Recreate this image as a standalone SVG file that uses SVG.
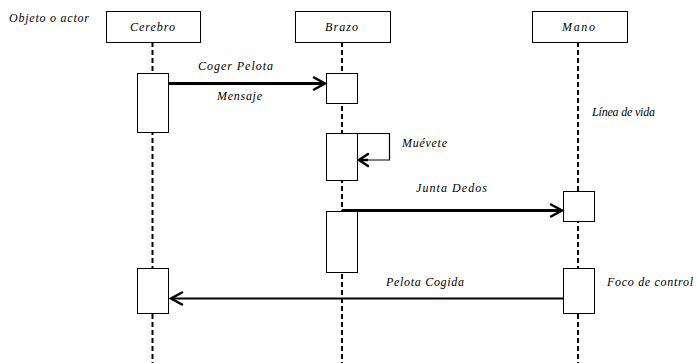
<svg xmlns="http://www.w3.org/2000/svg" width="696" height="363" viewBox="0 0 696 363">
<style>
text{font-family:'Liberation Serif','DejaVu Serif',serif;font-style:italic;font-size:12px;fill:#000}
.box{fill:#fff;stroke:#000;stroke-width:1}
.life{stroke:#000;stroke-width:2;stroke-dasharray:5 3;fill:none}
.msg{stroke:#000;fill:none}
.head{stroke:#000;fill:none;stroke-width:2.5;stroke-linecap:round;stroke-linejoin:miter}
</style>
<rect width="696" height="363" fill="#fff"/>
<g id="lifelines">
<line class="life" x1="152.5" y1="42" x2="152.5" y2="363"/>
<line class="life" x1="342" y1="42" x2="342" y2="363"/>
<line class="life" x1="578" y1="42" x2="578" y2="363"/>
</g>
<g id="label-objeto"><text x="9" y="22" textLength="80" lengthAdjust="spacing">Objeto o actor</text></g>
<g id="cerebro">
<rect class="box" x="106.5" y="11.5" width="94" height="31"/>
<text x="130" y="31" textLength="45" lengthAdjust="spacing">Cerebro</text>
</g>
<g id="brazo">
<rect class="box" x="295.5" y="11.5" width="95" height="31"/>
<text x="325" y="31" textLength="33" lengthAdjust="spacing">Brazo</text>
</g>
<g id="mano">
<rect class="box" x="532.5" y="11.5" width="95" height="31"/>
<text x="562" y="31" textLength="33" lengthAdjust="spacing">Mano</text>
</g>
<g id="cerebro-act1"><rect class="box" x="137.5" y="73.5" width="31" height="59"/></g>
<g id="cerebro-act2"><rect class="box" x="137.5" y="268.5" width="31" height="45"/></g>
<g id="brazo-act1"><rect class="box" x="326.5" y="73.5" width="31" height="30"/></g>
<g id="brazo-act2"><rect class="box" x="326.5" y="133.5" width="31" height="47"/></g>
<g id="brazo-act3"><rect class="box" x="326.5" y="211.5" width="31" height="61"/></g>
<g id="mano-act1"><rect class="box" x="563.5" y="191.5" width="31" height="30"/></g>
<g id="mano-act2"><rect class="box" x="563.5" y="268.5" width="31" height="45"/></g>
<g id="connectors">
<line class="msg" x1="169" y1="83.5" x2="325" y2="83.5" stroke-width="3"/>
<polyline class="head" points="314,77.5 325,83.5 314,89.5"/>
<polyline class="msg" stroke-width="1.2" points="357.5,133.5 389.5,133.5 389.5,160 359,160"/>
<line class="msg" x1="359" y1="160" x2="368" y2="160" stroke-width="2.5"/>
<polyline class="head" points="368,154 359,160 368,166"/>
<line class="msg" x1="342" y1="210.5" x2="562" y2="210.5" stroke-width="3"/>
<polyline class="head" points="551,204.5 562,210.5 551,216.5"/>
<line class="msg" x1="563" y1="298.5" x2="171" y2="298.5" stroke-width="2"/>
<polyline class="head" points="182,292.5 171,298.5 182,304.5"/>
</g>
<g id="labels">
<text x="198" y="70" textLength="75" lengthAdjust="spacing">Coger Pelota</text>
<text x="217" y="100" textLength="45" lengthAdjust="spacing">Mensaje</text>
<text x="402" y="147" textLength="45" lengthAdjust="spacing">Muévete</text>
<text x="416" y="192" textLength="71" lengthAdjust="spacing">Junta Dedos</text>
<text x="592" y="116" textLength="63" lengthAdjust="spacing">Línea de vida</text>
<text x="386" y="286" textLength="78" lengthAdjust="spacing">Pelota Cogida</text>
<text x="607" y="286" textLength="86" lengthAdjust="spacing">Foco de control</text>
</g>
</svg>
